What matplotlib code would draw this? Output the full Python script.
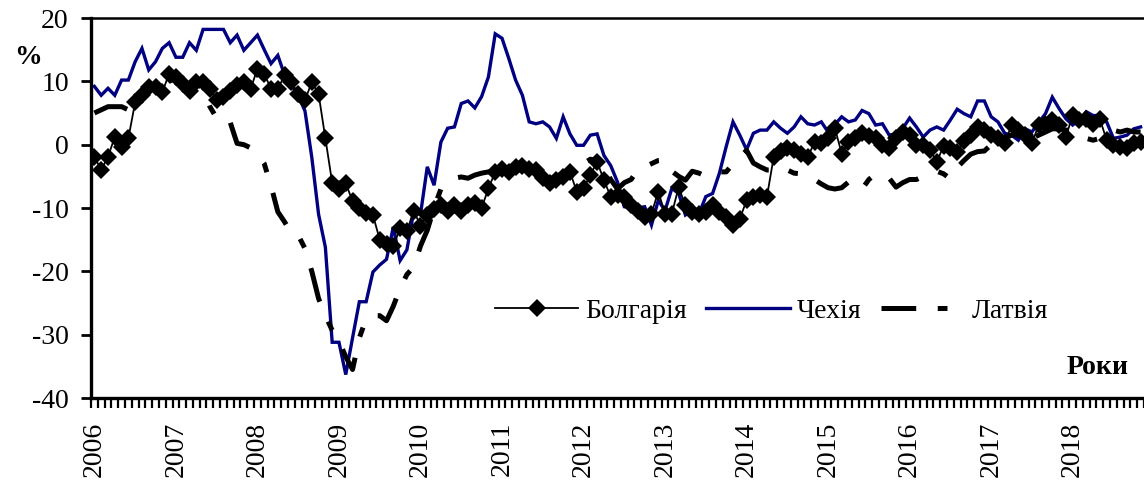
import numpy as np
import matplotlib
matplotlib.use("Agg")
import matplotlib.pyplot as plt
from matplotlib.lines import Line2D

plt.rcParams['font.family'] = ['Liberation Serif', 'DejaVu Serif']
plt.rcParams['axes.unicode_minus'] = False
plt.rcParams['lines.scale_dashes'] = False

years = [str(y) for y in range(2006, 2019)]
series_names = ["Болгарія", "Чехія", "Латвія"]

bulgaria = [
    -1.9, -4.0, -1.9, 1.2, -0.3, 1.0, 6.7, 7.8, 9.1, 9.1,
    8.3, 11.2, 10.7, 9.6, 8.5, 9.9, 9.9, 8.8, 7.0, 7.5,
    8.5, 9.4, 9.9, 8.8, 12.0, 11.2, 8.8, 8.8, 11.0, 9.9,
    8.0, 7.0, 9.9, 8.0, 1.0, -6.0, -7.0, -6.1, -8.9, -10.0,
    -10.8, -11.1, -15.0, -15.7, -16.0, -13.2, -13.7, -10.4, -12.8, -11.1,
    -10.1, -9.6, -10.5, -9.5, -10.5, -9.5, -9.2, -10.0, -6.9, -4.3,
    -3.8, -4.3, -3.6, -3.4, -3.8, -4.0, -5.3, -6.1, -5.6, -5.1,
    -4.3, -7.4, -6.9, -4.8, -2.7, -5.6, -8.2, -8.0, -8.2, -9.5,
    -10.4, -11.4, -10.9, -7.4, -10.9, -10.9, -6.7, -9.6, -10.6, -10.9,
    -10.6, -9.6, -10.6, -11.4, -12.7, -11.7, -8.8, -8.2, -8.0, -8.2,
    -1.9, -1.0, -0.5, -0.8, -1.4, -2.0, 0.4, 0.2, 1.0, 2.6,
    -1.4, 0.4, 1.0, 1.8, 1.3, 1.0, 0.0, -0.5, 1.0, 2.0,
    1.5, 0.0, 0.0, -0.8, -2.7, -0.2, -0.5, -1.1, 0.6, 1.5,
    2.8, 2.3, 1.6, 1.0, 0.2, 3.1, 2.3, 1.5, 0.2, 3.1,
    3.3, 3.9, 3.1, 1.2, 4.7, 3.9, 4.1, 3.3, 4.1, 0.7,
    0.0, -0.3, -0.5, 0.2, 0.5,
]

czech = [
    9.2, 7.8, 8.9, 7.8, 10.2, 10.2, 13.1, 15.2, 11.8, 13.1,
    15.2, 16.1, 13.8, 13.8, 16.1, 14.9, 18.2, 18.2, 18.2, 18.2,
    16.1, 17.3, 14.9, 16.1, 17.3, 15.0, 12.8, 14.1, 11.0, 9.4,
    7.8, 5.3, -2.0, -11.0, -16.2, -31.2, -31.2, -36.3, -30.5, -24.8,
    -24.8, -20.1, -19.0, -18.1, -13.0, -18.3, -16.6, -10.6, -11.0, -3.5,
    -6.4, 0.4, 2.6, 2.8, 6.5, 6.9, 5.8, 7.6, 10.7, 17.5,
    16.8, 13.6, 10.2, 7.8, 3.6, 3.3, 3.6, 2.8, 1.0, 4.4,
    1.7, -0.1, -0.1, 1.5, 1.7, -1.7, -3.3, -5.9, -9.8, -10.0,
    -10.0, -9.8, -12.7, -8.8, -10.4, -6.9, -7.7, -11.1, -10.4, -10.9,
    -8.2, -7.7, -4.5, -0.3, 3.6, 1.5, -0.8, 1.8, 2.3, 2.3,
    3.6, 2.6, 1.8, 2.8, 4.4, 3.3, 3.1, 3.6, 2.0, 3.2,
    4.4, 3.6, 3.9, 5.4, 4.9, 3.1, 3.3, 1.5, 1.7, 2.6,
    4.2, 2.8, 1.2, 2.3, 2.8, 2.3, 3.9, 5.6, 4.9, 4.4,
    6.9, 6.9, 4.4, 3.6, 1.8, 1.5, 0.7, 2.5, 2.0, 3.5,
    4.9, 7.5, 5.7, 4.1, 3.1, 3.9, 5.2, 4.6, 4.6, 3.6,
    1.0, 1.2, 1.5, 2.5, 2.8,
]

latvia = [
    5.0, 5.5, 6.0, 6.0, 6.0, 5.5, 7.0, 8.0, 9.0, 9.5,
    9.5, 10.0, 10.5, 10.0, 9.5, 9.5, 9.0, 6.0, 4.2, 4.5,
    3.5, 0.2, 0.0, -0.5, -1.5, -3.0, -6.5, -10.6, -12.2, -14.0,
    -14.3, -16.4, -20.0, -24.3, -27.0, -29.3, -31.0, -33.5, -35.5, -30.5,
    -27.5, -27.0, -27.0, -27.8, -25.5, -22.7, -20.5, -19.3, -16.0, -13.5,
    -10.0, -7.0, -6.4, -5.3, -5.1, -5.3, -4.8, -4.5, -4.3, -4.0,
    -4.0, -3.8, -4.0, -4.0, -4.5, -4.5, -5.0, -5.5, -5.0, -4.5,
    -4.5, -5.0, -3.0, -2.3, -2.5, -3.5, -5.5, -7.0, -6.0, -5.5,
    -4.0, -3.5, -3.0, -2.5, -2.4, -4.2, -5.0, -5.6, -4.2, -4.5,
    -5.0, -4.5, -4.3, -4.3, -3.0, -2.0, -0.9, -2.9, -3.5, -4.0,
    -4.0, -3.5, -4.0, -4.5, -4.6, -4.7, -5.5, -6.2, -6.8, -7.0,
    -6.8, -5.9, -6.0, -7.0, -5.5, -4.6, -4.8, -5.3, -6.7, -6.0,
    -5.5, -5.5, -5.0, -4.6, -4.2, -4.6, -5.4, -3.6, -2.5, -1.5,
    -1.1, -1.0, 0.0, 1.0, 1.0, 1.5, 1.5, 1.0, 1.0, 1.5,
    2.0, 2.5, 2.5, 2.3, 2.3, 1.4, 1.0, 0.7, 1.0, 1.5,
    2.3, 2.0, 2.3, 2.0, 2.0,
]

n = len(czech)
x = np.arange(n) + 0.5

W, H = 1144, 483
fig = plt.figure(figsize=(W / 100, H / 100), dpi=100)
ax = fig.add_axes([91 / W, 1 - 398 / H, 1 - 91 / W, (398 - 18) / H])

navy = '#000080'
lv_dash = (0, (25.0, 15.5, 7.0, 15.5))
msize = 9.0

ax.plot(x, czech, color=navy, lw=2.4, zorder=2, solid_joinstyle='miter')
ax.plot(x, latvia, color='black', lw=3.6, linestyle=lv_dash, zorder=3,
        dash_capstyle='butt')
ax.plot(x, bulgaria, color='black', lw=1.3, marker='D', markersize=msize,
        markeredgewidth=0, zorder=4)

ax.set_xlim(0, (W - 91) / 6.81)
ax.set_ylim(-40, 20)
ax.set_yticks(np.arange(-40, 21, 10))
ax.set_yticklabels([str(v) for v in range(-40, 21, 10)])
ax.set_xticks(np.arange(0, n, 12) + 0.5)
ax.set_xticklabels(years, rotation=90)
ax.set_xticks(np.arange(0, n + 1), minor=True)

ax.tick_params(axis='x', which='major', length=0, pad=17, labelsize=20)
ax.tick_params(axis='x', which='minor', length=7, width=1.6, direction='out')
ax.tick_params(axis='y', which='major', length=7, width=2, direction='out',
               pad=9, labelsize=20)

for s in ['left', 'bottom']:
    ax.spines[s].set_linewidth(2.4)
ax.spines['top'].set_linewidth(1.8)
ax.spines['right'].set_visible(False)

fig.text(28 / W, 1 - 57 / H, '%', fontsize=20, fontweight='bold',
         ha='center', va='center')
fig.text(1129 / W, 1 - 368 / H, 'Роки', fontsize=20, fontweight='bold',
         ha='right', va='center')

handles = [
    Line2D([], [], color='black', lw=1.3, marker='D', markersize=msize,
           markeredgewidth=0),
    Line2D([], [], color=navy, lw=2.4),
    Line2D([], [], color='black', lw=3.6, linestyle=(0, (25.0, 15.5, 7.0, 15.5)),
           dash_capstyle='butt'),
]
fig.legend(handles, series_names, loc='center left',
           bbox_to_anchor=(495 / W, 1 - 311 / H), ncol=3, frameon=False,
           fontsize=20, handlelength=3.0, handletextpad=0.25,
           columnspacing=0.7, borderpad=0, borderaxespad=0, numpoints=1)

fig.savefig('out.png', dpi=100)
